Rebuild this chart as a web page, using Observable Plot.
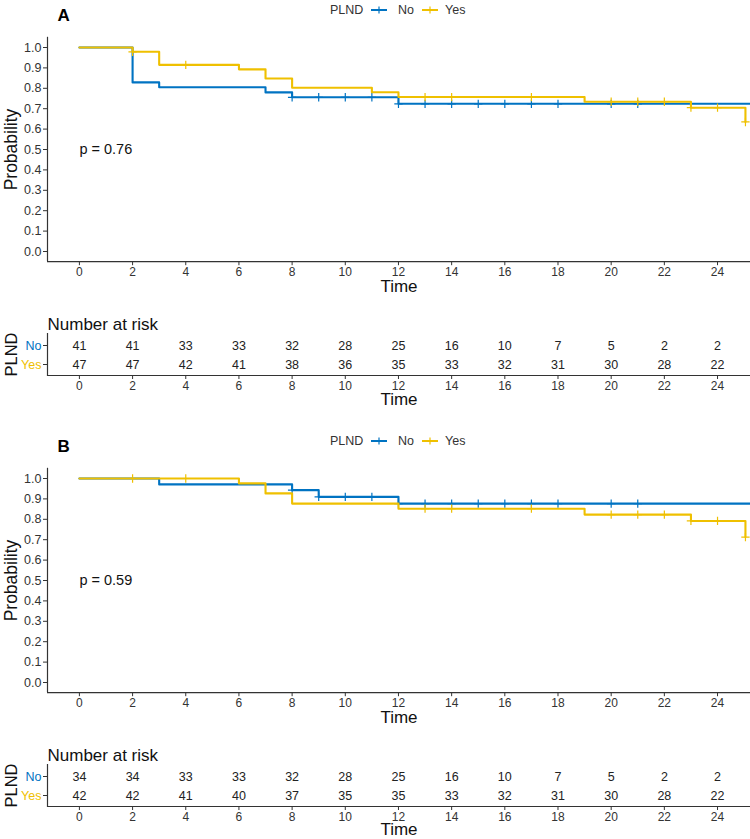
<!DOCTYPE html>
<html>
<head>
<meta charset="utf-8">
<script src="https://cdn.jsdelivr.net/npm/d3@7"></script>
<script src="https://cdn.jsdelivr.net/npm/@observablehq/plot@0.6"></script>
<style>
  body { margin: 0; background: #fff; }
  #root { position: relative; width: 750px; height: 839px; overflow: hidden; font-family: "Liberation Sans", Arial, sans-serif; }
  .abs { position: absolute; }
  .leg { position: absolute; font-size: 12.5px; color: #333; line-height: 14px; white-space: nowrap; }
</style>
</head>
<body>
<div id="root"></div>
<script>
// ---------- data ----------
const groups = ["No", "Yes"];
const groupColors = ["#0073C2", "#EFC000"];
const legendTitle = "PLND";
const xTicks = [0, 2, 4, 6, 8, 10, 12, 14, 16, 18, 20, 22, 24];
const yTicks = [0, 0.1, 0.2, 0.3, 0.4, 0.5, 0.6, 0.7, 0.8, 0.9, 1.0];
const riskTimes = [0, 2, 4, 6, 8, 10, 12, 14, 16, 18, 20, 22, 24];

// Panel A
const aNoTime = [0, 2, 3, 7, 8, 12, 25.24];
const aNoSurv = [1, 0.829, 0.805, 0.780, 0.756, 0.724, 0.724];
const aNoCensor = [8, 9, 10, 11, 12, 13, 14, 15, 16, 17, 18, 20, 21];
const aYesTime = [0, 2, 3, 6, 7, 8, 11, 12, 19, 23, 25.05];
const aYesSurv = [1, 0.979, 0.915, 0.893, 0.848, 0.803, 0.781, 0.757, 0.734, 0.705, 0.635];
const aYesCensor = [2, 4, 13, 14, 17, 20, 21, 22, 23, 24, 25.05];
const aRiskNo = [41, 41, 33, 33, 32, 28, 25, 16, 10, 7, 5, 2, 2];
const aRiskYes = [47, 47, 42, 41, 38, 36, 35, 33, 32, 31, 30, 28, 22];
const aP = "p = 0.76";

// Panel B
const bNoTime = [0, 3, 8, 9, 12, 25.24];
const bNoSurv = [1, 0.971, 0.943, 0.910, 0.877, 0.877];
const bNoCensor = [8, 9, 10, 11, 12, 13, 14, 15, 16, 17, 18, 20, 21];
const bYesTime = [0, 6, 7, 8, 12, 19, 23, 25.05];
const bYesSurv = [1, 0.976, 0.927, 0.877, 0.852, 0.823, 0.792, 0.713];
const bYesCensor = [2, 4, 13, 14, 17, 20, 21, 22, 23, 24, 25.05];
const bRiskNo = [34, 34, 33, 33, 32, 28, 25, 16, 10, 7, 5, 2, 2];
const bRiskYes = [42, 42, 41, 40, 37, 35, 35, 33, 32, 31, 30, 28, 22];
const bP = "p = 0.59";

// ---------- helpers ----------
const FONT = '"Liberation Sans", Arial, sans-serif';
const X_DOMAIN = [-1.2, 25.24];
const Y_DOMAIN = [-0.05, 1.05];
const AX = "#333";
const TITLE = "#111";
const root = document.getElementById("root");

function survAt(times, surv, t) {
  let v = surv[0];
  for (let i = 0; i < times.length; i++) if (times[i] <= t + 1e-9) v = surv[i];
  return v;
}

function place(el, top, left) {
  el.classList.add("abs");
  el.style.top = top + "px";
  el.style.left = (left || 0) + "px";
  root.appendChild(el);
}

function curvePlot(d) {
  const lines = [
    d.noT.map((t, i) => ({t, s: d.noS[i]})),
    d.yesT.map((t, i) => ({t, s: d.yesS[i]}))
  ];
  const cens = [
    d.noC.map(t => ({t, s: survAt(d.noT, d.noS, t)})),
    d.yesC.map(t => ({t, s: survAt(d.yesT, d.yesS, t)}))
  ];
  const marks = [
    Plot.ruleY([Y_DOMAIN[0]], {stroke: AX, strokeWidth: 1.2}),
    Plot.ruleX([X_DOMAIN[0]], {stroke: AX, strokeWidth: 1.2}),
    Plot.axisX({ticks: xTicks, tickSize: 4, tickPadding: 1.5, label: null, stroke: AX, fill: AX, fontSize: 12}),
    Plot.axisY({ticks: yTicks, tickSize: 4, tickPadding: 2, tickFormat: d3.format(".1f"), label: null, stroke: AX, fill: AX, fontSize: 12.5}),
    Plot.text(["Time"], {frameAnchor: "bottom", dy: 30, fontSize: 17, fill: TITLE}),
    Plot.text(["Probability"], {frameAnchor: "left", dx: -36, rotate: -90, textAnchor: "middle", fontSize: 17.5, fill: TITLE}),
    Plot.text([d.p], {x: 0, y: 0.5, textAnchor: "start", fontSize: 14.5, fill: TITLE}),
    Plot.text([d.letter], {frameAnchor: "top-left", dx: 10, dy: -28.8, textAnchor: "start", fontSize: 17, fontWeight: "bold", fill: "#000"})
  ];
  for (let g = 0; g < 2; g++) {
    marks.push(Plot.line(lines[g], {x: "t", y: "s", curve: "step-after", stroke: groupColors[g], strokeWidth: 2.1}));
    marks.push(Plot.dot(cens[g], {x: "t", y: "s", symbol: "plus", r: 2.8, stroke: groupColors[g], strokeWidth: 1.2}));
  }
  return Plot.plot({
    width: 750, height: 300,
    marginLeft: 47, marginRight: 0, marginTop: 36.8, marginBottom: 38.8,
    style: {fontFamily: FONT, fontSize: "12px", color: AX, background: "transparent", overflow: "visible"},
    x: {domain: X_DOMAIN},
    y: {domain: Y_DOMAIN},
    marks
  });
}

function riskPlot(d) {
  const rows = [d.rNo, d.rYes];
  const marks = [
    Plot.frame({anchor: "bottom", stroke: AX, strokeWidth: 1.2}),
    Plot.ruleX([X_DOMAIN[0]], {stroke: AX, strokeWidth: 1.2}),
    Plot.axisX({ticks: xTicks, tickSize: 4, tickPadding: 1.5, label: null, stroke: AX, fill: AX, fontSize: 12}),
    Plot.text(["Time"], {frameAnchor: "bottom", dy: d.timeDy, fontSize: 17, fill: TITLE}),
    Plot.text([legendTitle], {frameAnchor: "left", dx: -36, rotate: -90, textAnchor: "middle", fontSize: 16.5, fill: TITLE}),
    Plot.text(["Number at risk"], {frameAnchor: "top-left", dy: -16, textAnchor: "start", fontSize: 17, fill: TITLE})
  ];
  for (let g = 0; g < 2; g++) {
    marks.push(Plot.axisY({ticks: [groups[g]], tickSize: 4, tickPadding: 2, label: null, stroke: AX, fill: groupColors[g], fontSize: 12.5}));
    marks.push(Plot.text(riskTimes.map((t, i) => ({t, g: groups[g], n: rows[g][i]})),
      {x: "t", y: "g", text: r => String(r.n), fontSize: 12.5, fill: "#222"}));
  }
  return Plot.plot({
    width: 750, height: 33 + 42 + 38,
    marginLeft: 47, marginRight: 0, marginTop: 33, marginBottom: 38,
    style: {fontFamily: FONT, fontSize: "12px", color: AX, background: "transparent", overflow: "visible"},
    x: {domain: X_DOMAIN},
    y: {type: "point", domain: groups, padding: 0.6},
    marks
  });
}

function legend(top) {
  const div = document.createElement("div");
  div.style.width = "750px";
  div.style.height = "20px";
  const items = [
    {type: "text", text: legendTitle, left: 330},
    {type: "key", color: groupColors[0], left: 370},
    {type: "text", text: groups[0], left: 398},
    {type: "key", color: groupColors[1], left: 421},
    {type: "text", text: groups[1], left: 445}
  ];
  const ns = "http://www.w3.org/2000/svg";
  for (const it of items) {
    if (it.type === "text") {
      const s = document.createElement("span");
      s.className = "leg";
      s.textContent = it.text;
      s.style.left = it.left + "px";
      s.style.top = "3px";
      div.appendChild(s);
    } else {
      const svg = document.createElementNS(ns, "svg");
      svg.setAttribute("width", 18); svg.setAttribute("height", 10);
      svg.style.position = "absolute";
      svg.style.left = it.left + "px";
      svg.style.top = "5px";
      const h = document.createElementNS(ns, "line");
      h.setAttribute("x1", 1); h.setAttribute("x2", 17); h.setAttribute("y1", 5); h.setAttribute("y2", 5);
      h.setAttribute("stroke", it.color); h.setAttribute("stroke-width", 2);
      const v = document.createElementNS(ns, "line");
      v.setAttribute("x1", 9); v.setAttribute("x2", 9); v.setAttribute("y1", 1.5); v.setAttribute("y2", 8.5);
      v.setAttribute("stroke", it.color); v.setAttribute("stroke-width", 1.2);
      svg.appendChild(h); svg.appendChild(v);
      div.appendChild(svg);
    }
  }
  place(div, top, 0);
}

// ---------- panels ----------
function panel(off, d) {
  place(curvePlot(d), off, 0);
  place(riskPlot(d), off + 300, 0);
  legend(off);
}

panel(0, {noT: aNoTime, noS: aNoSurv, noC: aNoCensor, yesT: aYesTime, yesS: aYesSurv, yesC: aYesCensor,
  rNo: aRiskNo, rYes: aRiskYes, p: aP, letter: "A", timeDy: 29});
panel(430.5, {noT: bNoTime, noS: bNoSurv, noC: bNoCensor, yesT: bYesTime, yesS: bYesSurv, yesC: bYesCensor,
  rNo: bRiskNo, rYes: bRiskYes, p: bP, letter: "B", timeDy: 28});
</script>
</body>
</html>
